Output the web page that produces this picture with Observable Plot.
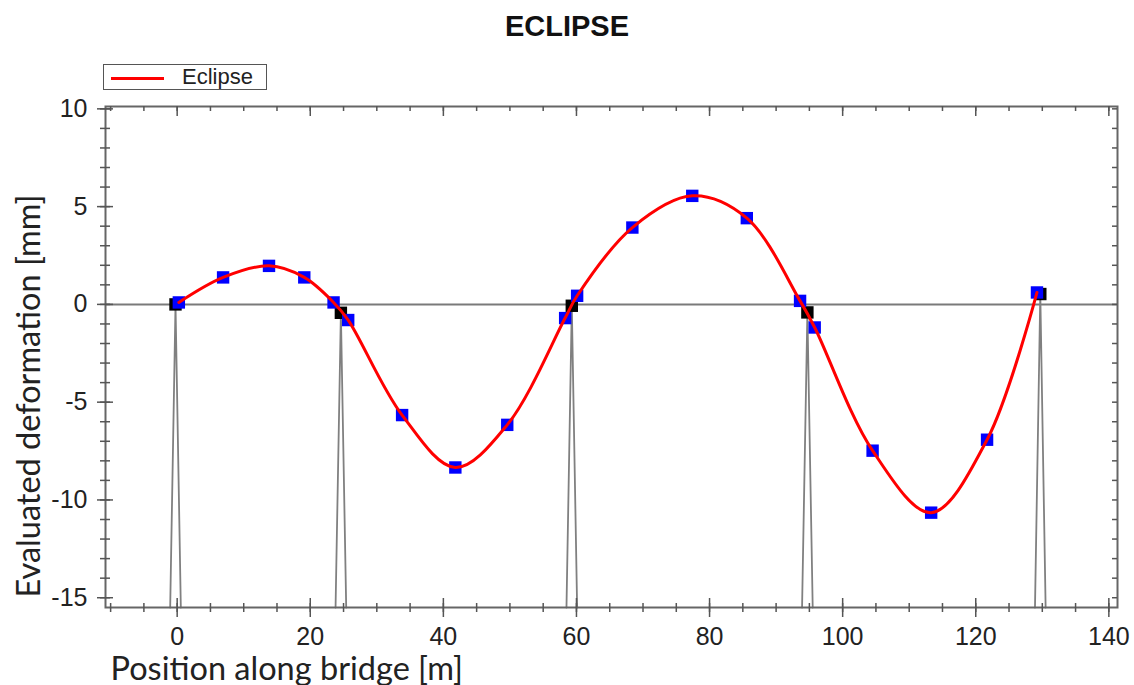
<!DOCTYPE html>
<html>
<head>
<meta charset="utf-8">
<script src="https://cdn.jsdelivr.net/npm/d3@7"></script>
<script src="https://cdn.jsdelivr.net/npm/@observablehq/plot@0.6"></script>
<style>
  html, body { margin: 0; padding: 0; background: #fff; }
  #title { height: 56px; width: 1134px; position: relative; }
  #title span { position: absolute; left: 0; width: 1134px; top: 10px; text-align: center;
    font: bold 29px "Liberation Sans", Arial, sans-serif; color: #111; }
  #wrap { position: relative; width: 1134px; height: 629px; }
  #legend { position: absolute; left: 103px; top: 8px; width: 162px; height: 24px;
    border: 1.5px solid #555; background: #fff; }
  #legend .sw { position: absolute; left: 7px; top: 12px; width: 53px; height: 3px; background: #ff0000; }
  #legend .lb { position: absolute; left: 78px; top: -1px; font: 22px "Liberation Sans", Arial, sans-serif; color: #222; }
</style>
</head>
<body>
<div id="title"><span>ECLIPSE</span></div>
<div id="wrap">
  <div id="chart"></div>
  <div id="legend"><div class="sw"></div><div class="lb">Eclipse</div></div>
</div>
<script>
// Measured points (blue squares)
const posX   = [0.25, 6.9, 13.8, 19.1, 23.5, 25.7, 33.8, 41.8, 49.6, 58.3, 60.1, 68.4, 77.4, 85.6, 93.6, 95.8, 104.5, 113.3, 121.7, 129.2];
const deform = [0.1, 1.38, 1.97, 1.38, 0.1, -0.8, -5.66, -8.34, -6.16, -0.7, 0.44, 3.93, 5.55, 4.41, 0.18, -1.18, -7.48, -10.65, -6.92, 0.61];
// Piers (black squares)
const pierX   = [-0.25, 24.6, 59.3, 94.7, 129.7];
const pierTop = [0.0, -0.43, -0.07, -0.41, 0.53];
// Ticks
const xMajor = [0, 20, 40, 60, 80, 100, 120, 140];
const xMinor = d3.range(-10, 141, 5);
const yMajor = [-15, -10, -5, 0, 5, 10];
const yMinor = d3.range(-15, 11, 1);

const xDomain = [-10.77, 141.3];
const yDomain = [-15.5, 10.12];
const pierHalf = 0.8;

const W = 1134, H = 629, mL = 105, mR = 17, mT = 50, mB = 78;
const fw = W - mL - mR, fh = H - mT - mB;

const pts = posX.map((x, i) => ({x, y: deform[i]}));
const piers = pierX.map((x, i) => ({x, y: pierTop[i]}));
const pierLines = piers.flatMap((p, i) => [
  {x: p.x - pierHalf, y: yDomain[0], z: i},
  {x: p.x, y: p.y, z: i},
  {x: p.x + pierHalf, y: yDomain[0], z: i}
]);

const tickFont = '"Liberation Sans", Arial, sans-serif';
const titleFont = 'Lato, "Open Sans", sans-serif';
const fmt = d => String(d);

const chart = Plot.plot({
  width: W, height: H,
  marginLeft: mL, marginRight: mR, marginTop: mT, marginBottom: mB,
  x: {domain: xDomain},
  y: {domain: yDomain},
  style: {background: "transparent"},
  marks: [
    Plot.ruleY([0], {stroke: "#7a7a7a", strokeWidth: 2}),
    Plot.line(pierLines, {x: "x", y: "y", z: "z", stroke: "#808080", strokeWidth: 1.8}),
    Plot.dot(piers, {x: "x", y: "y", symbol: "square", r: 7, fill: "#000"}),
    Plot.dot(pts, {x: "x", y: "y", symbol: "square", r: 7, fill: "#0000ff"}),
    Plot.line(pts, {x: "x", y: "y", curve: "catmull-rom", stroke: "#ff0000", strokeWidth: 3}),
    Plot.frame({stroke: "#666", strokeWidth: 2}),
    // left ticks (cross the axis)
    Plot.tickY(yMinor, {y: d => d, insetLeft: -5, insetRight: fw - 5, stroke: "#555", strokeWidth: 1.5}),
    Plot.tickY(yMajor, {y: d => d, insetLeft: -8, insetRight: fw - 8, stroke: "#555", strokeWidth: 1.5}),
    // right ticks (inward)
    Plot.tickY(yMinor, {y: d => d, insetLeft: fw - 5, insetRight: 0, stroke: "#555", strokeWidth: 1.5}),
    // bottom ticks (cross)
    Plot.tickX(xMinor, {x: d => d, insetTop: fh - 4, insetBottom: -5, stroke: "#555", strokeWidth: 1.5}),
    Plot.tickX(xMajor, {x: d => d, insetTop: fh - 9, insetBottom: -10, stroke: "#555", strokeWidth: 1.5}),
    // top ticks (inward)
    Plot.tickX(xMinor, {x: d => d, insetTop: 0, insetBottom: fh - 5, stroke: "#555", strokeWidth: 1.5}),
    Plot.tickX(xMajor, {x: d => d, insetTop: 0, insetBottom: fh - 10, stroke: "#555", strokeWidth: 1.5}),
    Plot.axisY(yMajor, {tickSize: 0, tickPadding: 18, tickFormat: fmt, fontSize: 25, fontFamily: tickFont, fill: "#222", label: null}),
    Plot.axisX(xMajor, {tickSize: 0, tickPadding: 20, tickFormat: fmt, fontSize: 25, fontFamily: tickFont, fill: "#222", label: null}),
    Plot.text(["Evaluated deformation [mm]"], {frameAnchor: "left", rotate: -90, dx: -76, dy: 39,
      fontSize: 32.5, fontFamily: titleFont, fill: "#222", textAnchor: "middle"}),
    Plot.text(["Position along bridge [m]"], {frameAnchor: "bottom-left", textAnchor: "start", lineAnchor: "bottom",
      dx: 5, dy: 72, fontSize: 32.5, fontFamily: titleFont, fill: "#222"})
  ]
});
document.getElementById("chart").appendChild(chart);
</script>
</body>
</html>
